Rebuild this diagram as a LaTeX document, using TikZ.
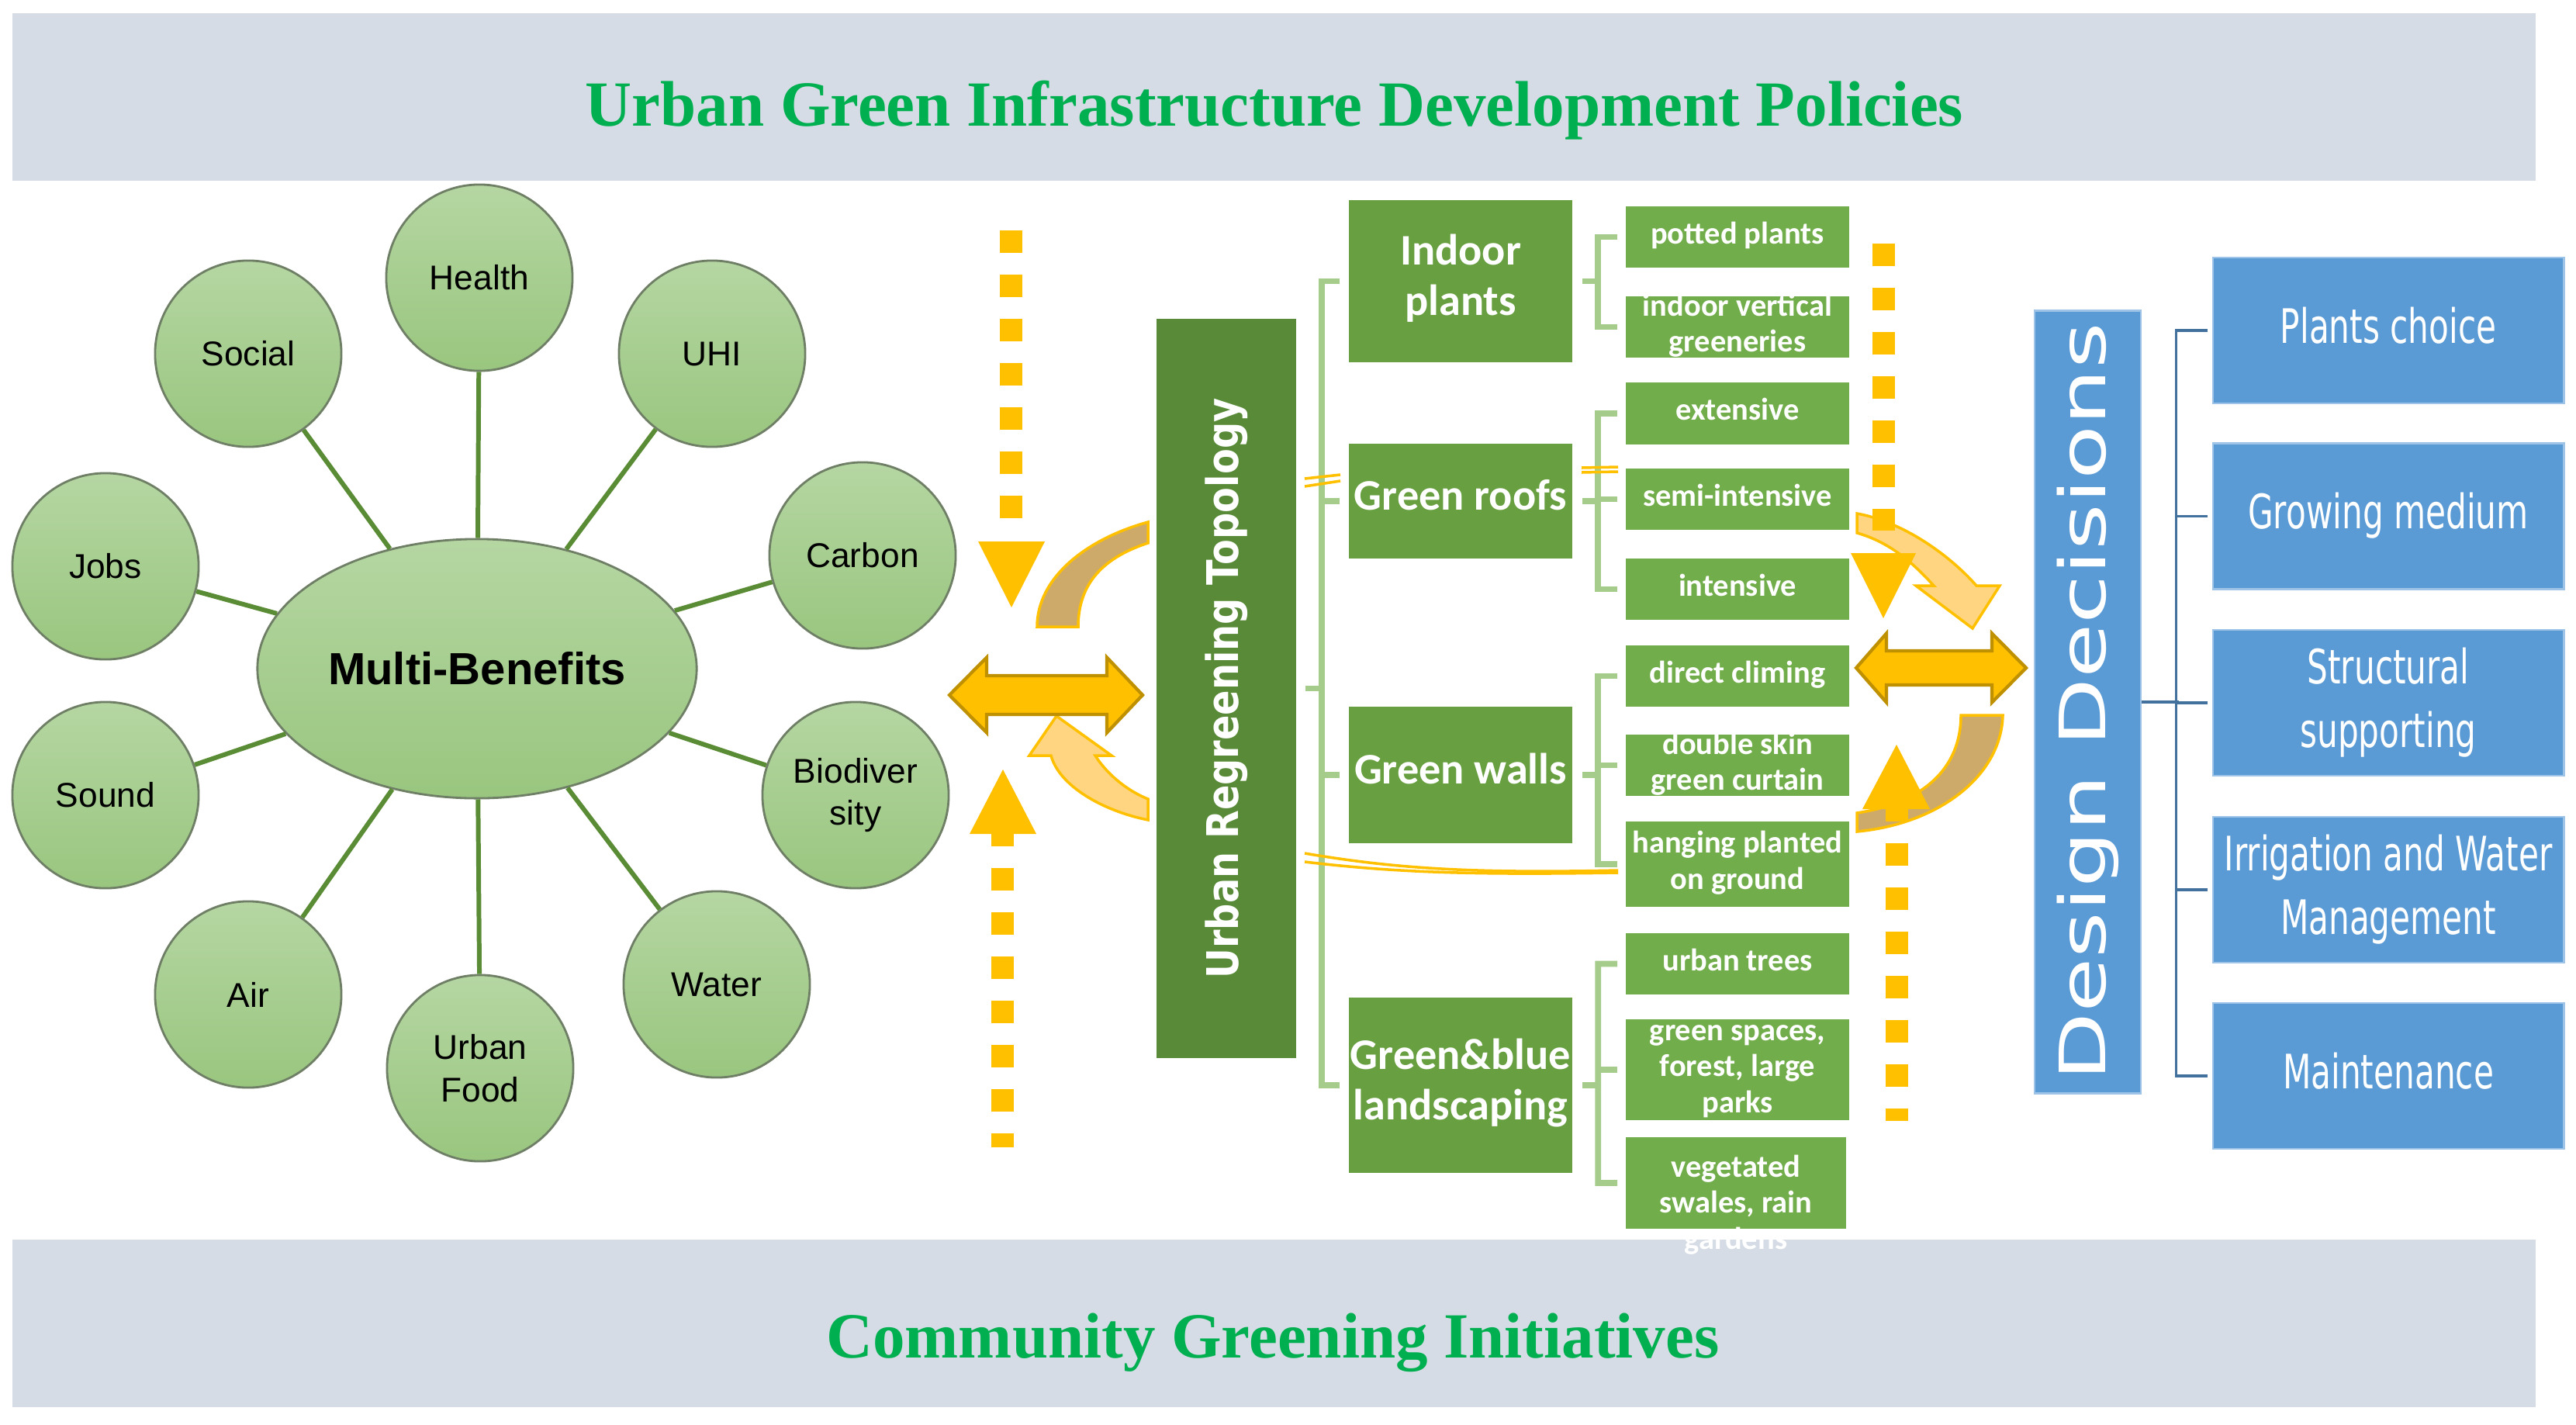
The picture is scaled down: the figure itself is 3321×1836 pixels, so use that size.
\documentclass[tikz,border=0pt]{standalone}
\usepackage{fontspec}
\usepackage{graphicx}
\setmainfont{Liberation Serif}
\newfontfamily\carl{Carlito}
\newfontfamily\dejav{DejaVu Sans}
\newfontfamily\lsans{Liberation Sans}
\usetikzlibrary{shapes.geometric}
\definecolor{bandc}{HTML}{D6DCE5}
\definecolor{ttlc}{HTML}{00B050}
\definecolor{ctop}{HTML}{B5D6A2}
\definecolor{cbot}{HTML}{99C67F}
\definecolor{cbd}{HTML}{6F7F66}
\definecolor{spk}{HTML}{5A8C35}
\definecolor{urtc}{HTML}{588A37}
\definecolor{gbc}{HTML}{689F41}
\definecolor{sbc}{HTML}{72AD4B}
\definecolor{brg}{HTML}{A5CC8A}
\definecolor{ddc}{HTML}{5B9BD5}
\definecolor{ddb}{HTML}{9DC3E6}
\definecolor{bbrc}{HTML}{41719C}
\definecolor{gold}{HTML}{FFC000}
\definecolor{golddk}{HTML}{BF9000}
\definecolor{tanc}{HTML}{CDAA6A}
\definecolor{lor}{HTML}{FFD582}
\newcommand\stk[1]{\smash{\raisebox{-0.25em}{\begin{tabular}{@{}c@{}}#1\end{tabular}}}}
\begin{document}
\begin{tikzpicture}[x=0.01cm,y=-0.01cm,
  band/.style={fill=bandc, draw=none, minimum width=32.51cm, minimum height=2.16cm, inner sep=0},
  ttl/.style={text=ttlc, font=\bfseries\fontsize{23.6}{28}\selectfont, inner sep=0},
  cir/.style={circle, minimum size=2.4cm, inner sep=0, draw=cbd, line width=0.8pt, top color=ctop, bottom color=cbot, font=\lsans\fontsize{12.6}{15.5}\selectfont, align=center},
  mbs/.style={ellipse, minimum width=5.66cm, minimum height=3.34cm, inner sep=0, draw=cbd, line width=0.8pt, top color=ctop, bottom color=cbot, font=\lsans\bfseries\fontsize{16.5}{20}\selectfont},
  spoke/.style={draw=spk, line width=1.7pt},
  urtbox/.style={fill=urtc, text=white, inner sep=0, minimum width=1.8cm, minimum height=9.53cm, font=\dejav\bfseries\fontsize{16}{19}\selectfont},
  gbox/.style={fill=gbc, text=white, inner sep=0, minimum width=2.88cm, font=\carl\bfseries\fontsize{16}{18.5}\selectfont},
  sbox/.style={fill=sbc, text=white, inner sep=0, minimum width=2.88cm, minimum height=0.79cm, font=\carl\bfseries\fontsize{11.5}{13.2}\selectfont},
  stxt/.style={text=white, inner sep=0, font=\carl\bfseries\fontsize{11.5}{13.2}\selectfont},
  ddbox/.style={fill=ddc, draw=ddb, line width=0.8pt, text=white, inner sep=0, minimum width=1.37cm, minimum height=10.08cm, font=\dejav\fontsize{23.4}{28}\selectfont},
  bbox/.style={fill=ddc, draw=ddb, line width=0.8pt, text=white, inner sep=0, minimum width=4.52cm, minimum height=1.88cm, font=\dejav\fontsize{12}{16}\selectfont},
  gbr/.style={draw=brg, line width=2.2pt},
  bbr/.style={draw=bbrc, line width=0.9pt},
  ydash/.style={draw=gold, line width=0.29cm, dash pattern=on 0.29cm off 0.28cm},
  yline/.style={draw=gold, line width=1pt},
  curvA/.style={fill=tanc, draw=gold, line width=1pt},
  curvB/.style={fill=lor, draw=gold, line width=1pt},
  dbl/.style={fill=gold, draw=golddk, line width=1.2pt, line join=miter}
]
\useasboundingbox (0,0) rectangle (3321,1836);
\fill[white] (0,0) rectangle (3321,1836);

% bands
\node[band] (tb) at (1642.5,125) {};
\node[ttl, anchor=base] (tt) at (1643,162) {Urban Green Infrastructure Development Policies};
\node[band] (bb) at (1642.5,1706) {};
\node[ttl, anchor=base] (bt) at (1641,1750) {Community Greening Initiatives};

% multi-benefits
\node[mbs] (mb) at (615,862) {Multi-Benefits};
\node[cir] (social) at (320,456) {Social};
\node[cir] (health) at (618,358) {Health};
\node[cir] (uhi) at (918,456) {UHI};
\node[cir] (jobs) at (136,730) {Jobs};
\node[cir] (carbon) at (1112,716) {Carbon};
\node[cir] (sound) at (136,1025) {Sound};
\node[cir] (bio) at (1103,1025) {Biodiver\\sity};
\node[cir] (air) at (320,1282) {Air};
\node[cir] (food) at (619,1377) {Urban\\Food};
\node[cir] (water) at (924,1269) {Water};
\foreach \n in {social,health,uhi,jobs,carbon,sound,bio,air,food,water}
  \draw[spoke] (mb) -- (\n);

% curved arrows
\path[curvA] (1480,673) .. controls (1400,695) and (1337,745) .. (1337,808) -- (1390,808) .. controls (1390,750) and (1425,718) .. (1480,700) -- cycle;
\path[curvB] (1480,1057) .. controls (1420,1045) and (1365,1012) .. (1355,974) -- (1327,974) -- (1362,923) -- (1433,974) -- (1412,974) .. controls (1425,995) and (1450,1018) .. (1480,1030) -- cycle;
\path[curvB] (2394,662) .. controls (2450,672) and (2510,712) .. (2548,755) -- (2578,755) -- (2543,810) -- (2470,755) -- (2493,755) .. controls (2470,730) and (2440,700) .. (2394,687) -- cycle;
\path[curvA] (2582,922) .. controls (2580,1000) and (2500,1062) .. (2394,1072) -- (2394,1048) .. controls (2480,1035) and (2528,990) .. (2528,922) -- cycle;

% double arrows
\path[dbl] (1224,896) -- (1272,847.5) -- (1272,871) -- (1427,871) -- (1427,847.5) -- (1473,896) -- (1427,944.5) -- (1427,921) -- (1272,921) -- (1272,944.5) -- cycle;
\path[dbl] (2393,861) -- (2432,816.5) -- (2432,839) -- (2568,839) -- (2568,816.5) -- (2612,861) -- (2568,905.5) -- (2568,883) -- (2432,883) -- (2432,905.5) -- cycle;

% dashed arrows
\coordinate (d1a) at (1303.5,297); \coordinate (d1b) at (1303.5,672);
\draw[ydash] (d1a) -- (d1b);
\fill[gold] (1261,698) -- (1347,698) -- (1304,783) -- cycle;
\coordinate (d2a) at (1292.5,1062); \coordinate (d2b) at (1292.5,1479);
\draw[ydash] (d2a) -- (d2b);
\fill[gold] (1250,1075) -- (1336,1075) -- (1293,992) -- cycle;
\coordinate (d3a) at (2428,314); \coordinate (d3b) at (2428,684);
\draw[ydash] (d3a) -- (d3b);
\fill[gold] (2386,713) -- (2470,713) -- (2428,797) -- cycle;
\coordinate (d4a) at (2445.5,1030); \coordinate (d4b) at (2445.5,1445);
\draw[ydash] (d4a) -- (d4b);
\fill[gold] (2401,1043) -- (2488,1043) -- (2445,960) -- cycle;

% topology
\node[urtbox] (urt) at (1581,887.5) {\rotatebox{90}{\scalebox{0.85}[1]{Urban Regreening Topology}}};
\node[gbox, minimum height=2.09cm] (ip) at (1883,362.5) {\stk{Indoor\\plants}};
\node[gbox, minimum height=1.48cm] (gr) at (1883,646) {\stk{Green roofs}};
\node[gbox, minimum height=1.76cm] (gw) at (1883,999) {\stk{Green walls}};
\node[gbox, minimum height=2.26cm] (gb) at (1883,1399) {\stk{Green\&blue\\landscaping}};

\node[sbox] (pp) at (2240,305.5) {\stk{potted plants}};
\node[sbox] (iv) at (2240,421.5) {\stk{indoor vertical\\greeneries}};
\node[sbox] (ex) at (2240,533) {\stk{extensive}};
\node[sbox] (si) at (2240,643.5) {\stk{semi-intensive}};
\node[sbox] (ins) at (2240,759.5) {\stk{intensive}};
\node[sbox] (dc) at (2240,871.5) {\stk{direct climing}};
\node[sbox] (ds) at (2240,986.5) {\stk{double skin\\green curtain}};
\node[sbox, minimum height=1.10cm] (hp) at (2240,1114) {\stk{hanging planted\\on ground}};
\node[sbox] (ut) at (2240,1242.5) {\stk{urban trees}};
\node[sbox, minimum height=1.30cm] (gs) at (2240,1379) {\stk{green spaces,\\forest, large\\parks}};
\node[sbox, minimum width=2.84cm, minimum height=1.18cm] (vs) at (2238,1525) {};
\node[stxt] (vst) at (2238,1555) {\stk{vegetated\\swales, rain\\gardens}};

% green brackets
\draw[gbr] ([xshift=-0.11cm]ip.west) -- ([xshift=-0.34cm]ip.west) -- ([xshift=-0.34cm]gb.west) -- ([xshift=-0.11cm]gb.west);
\draw[gbr] ([xshift=-0.34cm]gr.west) -- ([xshift=-0.11cm]gr.west);
\draw[gbr] ([xshift=-0.34cm]gw.west) -- ([xshift=-0.11cm]gw.west);
\draw[gbr] ([xshift=0.11cm]urt.east) -- ([xshift=0.34cm]urt.east);

\draw[gbr] ([xshift=-0.1cm]pp.west) -- ([xshift=-0.35cm]pp.west) -- ([xshift=-0.35cm]iv.west) -- ([xshift=-0.1cm]iv.west);
\draw[gbr] ([xshift=0.12cm]ip.east) -- ([xshift=0.34cm]ip.east);
\draw[gbr] ([xshift=-0.1cm]ex.west) -- ([xshift=-0.35cm]ex.west) -- ([xshift=-0.35cm]ins.west) -- ([xshift=-0.1cm]ins.west);
\draw[gbr] ([xshift=-0.35cm]si.west) -- ([xshift=-0.1cm]si.west);
\draw[gbr] ([xshift=0.12cm]gr.east) -- ([xshift=0.34cm]gr.east);
\draw[gbr] ([xshift=-0.1cm]dc.west) -- ([xshift=-0.35cm]dc.west) -- ([xshift=-0.35cm]hp.west) -- ([xshift=-0.1cm]hp.west);
\draw[gbr] ([xshift=-0.35cm]ds.west) -- ([xshift=-0.1cm]ds.west);
\draw[gbr] ([xshift=0.12cm]gw.east) -- ([xshift=0.34cm]gw.east);
\draw[gbr] ([xshift=-0.1cm]ut.west) -- ([xshift=-0.35cm]ut.west) -- ([xshift=-0.35cm]vs.west) -- ([xshift=-0.1cm]vs.west);
\draw[gbr] ([xshift=-0.35cm]gs.west) -- ([xshift=-0.1cm]gs.west);
\draw[gbr] ([xshift=0.12cm]gb.east) -- ([xshift=0.34cm]gb.east);

% thin orange traces
\draw[yline] (1682,1100) .. controls (1800,1120) and (1900,1126) .. (2086,1122);
\draw[yline] (1682,1111) .. controls (1800,1125) and (1900,1128) .. (2086,1125);
\draw[yline] (1682,617) -- (1728,612);
\draw[yline] (1682,627) -- (1728,620);
\draw[yline] (2039,603) -- (2086,602);
\draw[yline] (2039,609) -- (2086,608);

% design decisions
\node[ddbox] (dd) at (2691.5,905) {\rotatebox{90}{\scalebox{1.39}[1]{Design Decisions}}};
\node[bbox] (pc) at (3079,426) {\scalebox{1}[1.45]{\stk{Plants choice}}};
\node[bbox] (gm) at (3079,665.5) {\scalebox{1}[1.45]{\stk{Growing medium}}};
\node[bbox] (sc) at (3079,906) {\scalebox{1}[1.45]{\stk{Structural\\supporting}}};
\node[bbox] (iw) at (3079,1147) {\scalebox{1}[1.45]{\stk{Irrigation and Water\\Management}}};
\node[bbox] (mt) at (3079,1387) {\scalebox{1}[1.45]{\stk{Maintenance}}};

\draw[bbr] (dd.east) -- ([xshift=0.47cm]dd.east);
\draw[bbr] ([xshift=-0.05cm]pc.west) -- ([xshift=-0.46cm]pc.west) -- ([xshift=-0.46cm]mt.west) -- ([xshift=-0.05cm]mt.west);
\draw[bbr] ([xshift=-0.46cm]gm.west) -- ([xshift=-0.05cm]gm.west);
\draw[bbr] ([xshift=-0.46cm]sc.west) -- ([xshift=-0.05cm]sc.west);
\draw[bbr] ([xshift=-0.46cm]iw.west) -- ([xshift=-0.05cm]iw.west);
\end{tikzpicture}
\end{document}
